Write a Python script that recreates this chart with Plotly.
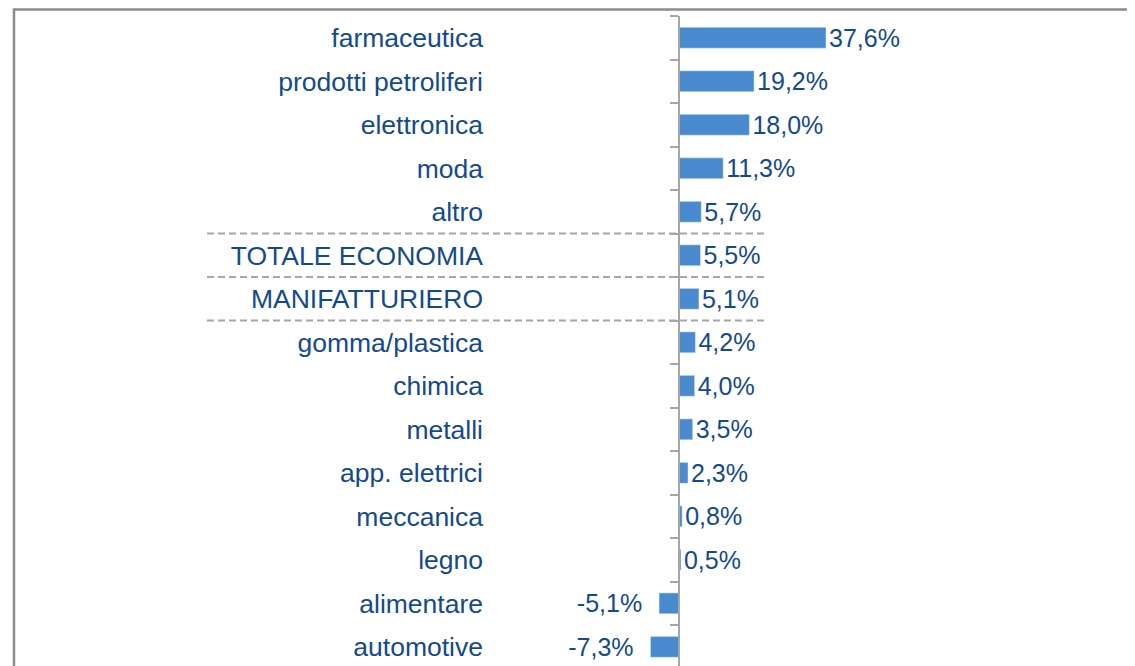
import plotly.graph_objects as go

# --- data -------------------------------------------------------------
categories = [
    "farmaceutica", "prodotti petroliferi", "elettronica", "moda", "altro",
    "TOTALE ECONOMIA", "MANIFATTURIERO", "gomma/plastica", "chimica", "metalli",
    "app. elettrici", "meccanica", "legno", "alimentare", "automotive",
]
values = [37.6, 19.2, 18.0, 11.3, 5.7, 5.5, 5.1, 4.2, 4.0, 3.5, 2.3, 0.8, 0.5, -5.1, -7.3]
highlighted = ["TOTALE ECONOMIA", "MANIFATTURIERO"]

NBSP = "\u00a0"
labels = [f"{v:.1f}%".replace(".", ",") + (NBSP * 2 if v < 0 else "") for v in values]

# --- layout constants (pixels, page coordinates) ----------------------
OFF = 8                     # default body margin of the html page
W, H = 1135 - OFF, 666 - OFF
TOP = 16 - OFF              # top of plot area
PLOT_LEFT = 490 - OFF       # left edge of plot area
ZERO_X = 679 - OFF          # where the value axis sits
LABEL_RIGHT = 483 - OFF     # right edge of category labels
PX_PER_UNIT = 3.91
BLUE = "#4A8BD0"
TEXT = "#134A8E"
GREY = "#A6A6A6"
FONT = "Arial, Liberation Sans, sans-serif"

xmin = -(ZERO_X - PLOT_LEFT) / PX_PER_UNIT
xmax = (W - ZERO_X) / PX_PER_UNIT
xdom = [PLOT_LEFT / W, 1.0]
zero_pos = xdom[0] + (0 - xmin) / (xmax - xmin) * (xdom[1] - xdom[0])
yrange = [len(categories) - 0.56, -0.5]
ydom = [0, 1 - TOP / H]

fig = go.Figure()
fig.add_trace(go.Bar(
    x=values, y=categories, orientation="h",
    marker_color=BLUE, width=0.48,
    text=labels, textposition="outside", constraintext="none",
    textfont=dict(size=25, color=TEXT, family=FONT),
    cliponaxis=False, hoverinfo="x+y", showlegend=False,
))
# invisible trace carrying the category labels on the left
fig.add_trace(go.Scatter(
    x=[0] * len(categories), y=categories, yaxis="y2", mode="markers",
    marker=dict(opacity=0), hoverinfo="skip", showlegend=False,
))

fig.update_layout(
    width=W, height=H,
    margin=dict(l=0, r=0, t=0, b=0),
    paper_bgcolor="white", plot_bgcolor="white",
    xaxis=dict(domain=xdom, range=[xmin, xmax], showgrid=False, zeroline=False,
               showticklabels=False, showline=False, fixedrange=True),
    yaxis=dict(domain=ydom, type="category", categoryorder="array",
               categoryarray=categories, range=yrange,
               anchor="free", position=zero_pos,
               showline=True, linecolor=GREY, linewidth=2,
               ticks="outside", ticklen=8, tickwidth=2, tickcolor=GREY,
               tickson="boundaries", showticklabels=False, showgrid=False,
               zeroline=False, automargin=False),
    yaxis2=dict(domain=ydom, type="category", categoryorder="array",
                categoryarray=categories, range=yrange, overlaying="y",
                anchor="free", position=LABEL_RIGHT / W, side="left",
                showline=False, ticks="", showgrid=False, zeroline=False,
                tickfont=dict(size=26.5, color=TEXT, family=FONT), automargin=False),
)

# dashed separators around the aggregate rows
first = categories.index(highlighted[0])
last = categories.index(highlighted[-1])
for b in range(first, last + 2):
    fig.add_shape(type="line", xref="paper", yref="y",
                  x0=(207 - OFF) / W, x1=(768 - OFF) / W, y0=b - 0.5, y1=b - 0.5,
                  line=dict(color=GREY, width=2, dash="7px,4px"), layer="above")

# outer frame (cropped on the right and bottom)
fig.add_shape(type="rect", xref="paper", yref="paper",
              x0=(14 - OFF) / W, x1=1.05, y0=-0.05, y1=1 - 1.5 / H,
              line=dict(color="#8C8C8C", width=2.5), layer="above")

fig.write_html("out.html")
